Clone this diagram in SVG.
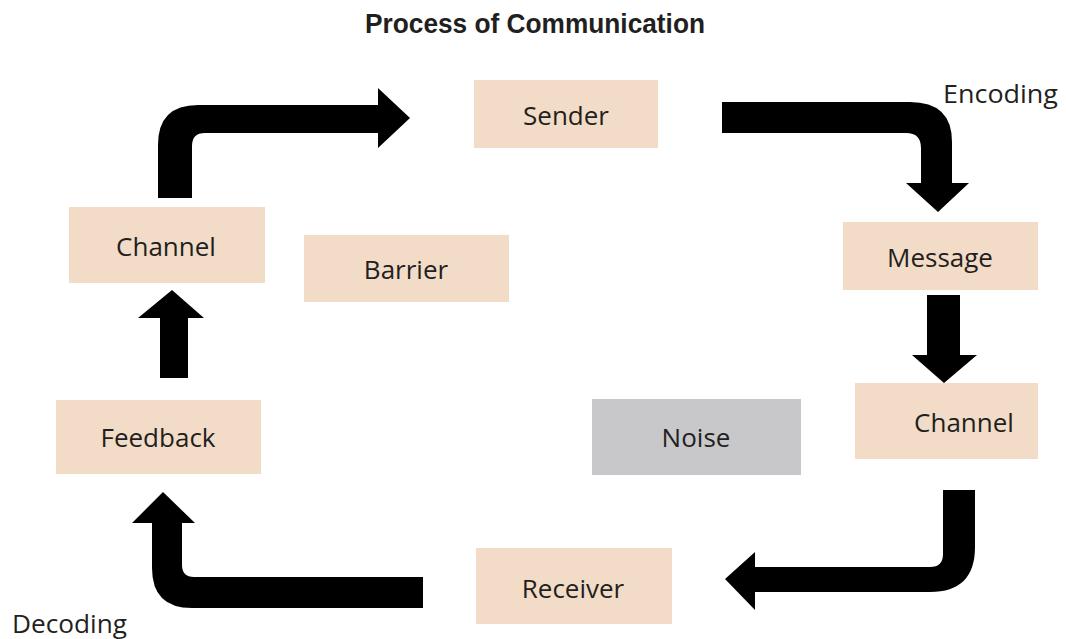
<svg xmlns="http://www.w3.org/2000/svg" width="1066" height="639" viewBox="0 0 1066 639">
<style>
.box{fill:#f2dcc8}
.gray{fill:#c8c8ca}
.lbl{font-family:"Open Sans","Liberation Sans",sans-serif;font-size:26px;fill:#231f20;text-anchor:middle}
.side{font-family:"Open Sans","Liberation Sans",sans-serif;font-size:26px;fill:#231f20}
.title{font-family:"Liberation Sans",Arial,sans-serif;font-weight:bold;font-size:27px;fill:#231f20;text-anchor:middle}
.arr{fill:#000}
</style>
<rect width="1066" height="639" fill="#fff"/>
<text class="title" x="535" y="33" textLength="340" lengthAdjust="spacingAndGlyphs">Process of Communication</text>
<text class="side" x="943" y="103" textLength="115" lengthAdjust="spacingAndGlyphs">Encoding</text>
<text class="side" x="12" y="633" textLength="115" lengthAdjust="spacingAndGlyphs">Decoding</text>
<g id="connectors">
<path class="arr" d="M158,198 L158,145 Q158,105 198,105 L378,105 L378,88 L410,118 L378,148 L378,133 L205,133 Q192,133 192,146 L192,198 Z"/>
<path class="arr" d="M722,102 L910,102 Q952,102 952,142 L952,183 L969,183 L938,212 L906,183 L921,183 L921,148 Q921,133 906,133 L722,133 Z"/>
<path class="arr" d="M927,295 L960,295 L960,355 L977,355 L944,383 L912,355 L927,355 Z"/>
<path class="arr" d="M943,490 L975,490 L975,547 Q975,592 930,592 L755,592 L755,610 L725,579 L755,552 L755,567 L930,567 Q943,567 943,554 Z"/>
<path class="arr" d="M423,577 L194,577 Q182,577 182,565 L182,523 L195,523 L163,492 L132,523 L152,523 L152,568 Q152,608 192,608 L423,608 Z"/>
<path class="arr" d="M160,378 L160,318 L138,318 L172,290 L204,318 L188,318 L188,378 Z"/>
</g>
<g id="sender"><rect class="box" x="474" y="80" width="184" height="68"/><text class="lbl" x="566" y="125">Sender</text></g>
<g id="message"><rect class="box" x="843" y="222" width="195" height="68"/><text class="lbl" x="940" y="267">Message</text></g>
<g id="channel-right"><rect class="box" x="855" y="383" width="183" height="76"/><text class="lbl" x="964" y="432">Channel</text></g>
<g id="noise"><rect class="gray" x="592" y="399" width="209" height="76"/><text class="lbl" x="696" y="447">Noise</text></g>
<g id="receiver"><rect class="box" x="476" y="548" width="196" height="76"/><text class="lbl" x="573" y="598">Receiver</text></g>
<g id="feedback"><rect class="box" x="56" y="400" width="205" height="74"/><text class="lbl" x="158" y="447">Feedback</text></g>
<g id="channel-left"><rect class="box" x="69" y="207" width="196" height="76"/><text class="lbl" x="166" y="256">Channel</text></g>
<g id="barrier"><rect class="box" x="304" y="235" width="205" height="67"/><text class="lbl" x="406" y="279">Barrier</text></g>
</svg>
